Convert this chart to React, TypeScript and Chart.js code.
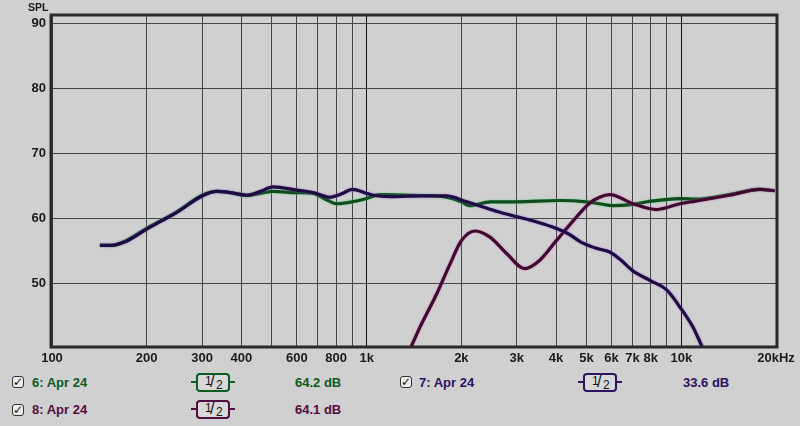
import React, { useEffect, useRef } from 'react';
import { Chart, registerables } from 'chart.js';

Chart.register(...registerables);

// Axis ticks
const xTickValues = [100, 200, 300, 400, 500, 600, 700, 800, 900, 1000, 2000, 3000, 4000, 5000, 6000, 7000, 8000, 9000, 10000, 20000];
const xTickLabels = ['100', '200', '300', '400', '', '600', '', '800', '', '1k', '2k', '3k', '4k', '5k', '6k', '7k', '8k', '', '10k', '20kHz'];
const yTickValues = [50, 60, 70, 80, 90];

// Series 6 (green)
const freq6 = [142, 155, 170, 200, 250, 300, 334, 370, 417, 460, 504, 600, 675, 740, 802, 900, 1000, 1100, 1400, 1790, 2000, 2125, 2470, 3000, 4100, 5000, 5500, 6070, 7000, 7800, 9900, 11200, 14200, 17800, 19800];
const spl6 = [55.9, 55.9, 56.5, 58.5, 61.1, 63.6, 64.2, 64.0, 63.6, 63.9, 64.2, 64.0, 63.9, 63.0, 62.3, 62.6, 63.1, 63.7, 63.6, 63.3, 62.6, 62.0, 62.6, 62.6, 62.8, 62.6, 62.3, 62.0, 62.2, 62.6, 63.1, 63.0, 63.7, 64.5, 64.3];

// Series 7 (navy purple)
const freq7 = [142, 155, 170, 200, 250, 300, 334, 370, 417, 460, 504, 600, 680, 763, 830, 901, 1000, 1050, 1200, 1500, 1790, 2080, 2280, 2600, 2900, 3300, 3900, 4400, 4800, 5400, 5900, 6400, 7000, 7950, 9000, 9900, 10900, 11600, 12500];
const spl7 = [55.9, 55.9, 56.4, 58.4, 61.0, 63.5, 64.2, 64.0, 63.6, 64.2, 64.9, 64.4, 64.0, 63.3, 63.8, 64.5, 63.9, 63.6, 63.4, 63.5, 63.5, 62.6, 62.0, 61.1, 60.5, 59.8, 58.7, 57.6, 56.4, 55.4, 54.9, 53.7, 52.0, 50.5, 49.0, 46.4, 43.3, 40.5, 37.5];

// Series 8 (maroon)
const freq8 = [1300, 1390, 1477, 1669, 1840, 2000, 2210, 2460, 2790, 3180, 3550, 4020, 4540, 5120, 5500, 5930, 7030, 8350, 9900, 11100, 14200, 17800, 19800];
const spl8 = [38.0, 40.5, 43.3, 48.4, 53.0, 56.6, 58.1, 57.2, 54.6, 52.3, 53.6, 56.7, 59.7, 62.4, 63.3, 63.7, 62.3, 61.4, 62.3, 62.7, 63.6, 64.5, 64.3];

// Legend entries
const legendNames = ['6: Apr 24', '7: Apr 24', '8: Apr 24'];
const legendLevels = ['64.2 dB', '33.6 dB', '64.1 dB'];

const C6 = '#0f4d1e';
const C7 = '#1e0c40';
const C8 = '#3e0a2e';
const T6 = '#0d5a22';
const T7 = '#2c1260';
const T8 = '#520c40';
const HALO: Record<string, string> = {
  '6': 'rgba(70,210,110,0.8)',
  '7': 'rgba(150,80,230,0.7)',
  '8': 'rgba(220,80,200,0.7)',
};

const BG = '#d0d0d0';
const FONT = "'Liberation Sans', Arial, sans-serif";

function toPoints(f: number[], v: number[]) {
  return f.map((x, i) => ({ x, y: v[i] }));
}

const haloPlugin = {
  id: 'halo',
  beforeDatasetDraw(chart: any, args: any) {
    const ds = chart.data.datasets[args.index];
    const ctx = chart.ctx;
    ctx.save();
    ctx.shadowColor = HALO[ds.key] || 'transparent';
    ctx.shadowBlur = 2;
  },
  afterDatasetDraw(chart: any) {
    chart.ctx.restore();
  },
};

const framePlugin = {
  id: 'frame',
  afterDraw(chart: any) {
    const { ctx, chartArea } = chart;
    ctx.save();
    ctx.strokeStyle = '#2a2a2a';
    ctx.lineWidth = 3;
    ctx.strokeRect(chartArea.left - 1, chartArea.top - 1, chartArea.right - chartArea.left + 2, chartArea.bottom - chartArea.top + 2);
    ctx.restore();
  },
};

function CheckBox({ left, top }: { left: number; top: number }) {
  return (
    <div
      style={{
        position: 'absolute', left, top, width: 12, height: 12, boxSizing: 'border-box',
        border: '1px solid #333', borderRadius: 3, background: '#ececec',
        fontFamily: "'DejaVu Sans', sans-serif", fontSize: 12, lineHeight: '11px', color: '#111',
        textAlign: 'center', fontWeight: 'bold', overflow: 'visible',
      }}
    >
      ✓
    </div>
  );
}

function Fraction({ left, top, color }: { left: number; top: number; color: string }) {
  return (
    <div style={{ position: 'absolute', left, top, width: 44, height: 19 }}>
      <div style={{ position: 'absolute', left: 0, top: 8, width: 6, height: 2, background: color }} />
      <div style={{ position: 'absolute', right: 0, top: 8, width: 6, height: 2, background: color }} />
      <div
        style={{
          position: 'absolute', left: 5, top: 0, width: 34, height: 19, boxSizing: 'border-box',
          border: `2px solid ${color}`, borderRadius: 4, background: '#d8d8d8',
          fontFamily: FONT, color: '#111',
        }}
      >
        <span style={{ position: 'absolute', left: 7, top: -1, fontSize: 12 }}>1</span>
        <span style={{ position: 'absolute', left: 12, top: -2, fontSize: 16 }}>/</span>
        <span style={{ position: 'absolute', left: 18, top: 3, fontSize: 12 }}>2</span>
      </div>
    </div>
  );
}

function Label({ left, center, color, text }: { left: number; center: number; color: string; text: string }) {
  return (
    <div
      style={{
        position: 'absolute', left, top: center - 8, height: 16, lineHeight: '16px',
        fontFamily: FONT, fontWeight: 'bold', fontSize: 13, color, whiteSpace: 'nowrap',
      }}
    >
      {text}
    </div>
  );
}

export default function App() {
  const canvasRef = useRef<HTMLCanvasElement | null>(null);

  useEffect(() => {
    document.body.style.margin = '0';
    const canvas = canvasRef.current;
    if (!canvas) return;
    const mk = (key: string, label: string, f: number[], v: number[], color: string) =>
      ({
        key,
        label,
        data: toPoints(f, v),
        borderColor: color,
        borderWidth: 3.2,
        pointRadius: 0,
        cubicInterpolationMode: 'monotone',
        fill: false,
      } as any);
    const chart = new Chart(canvas, {
      type: 'line',
      data: {
        datasets: [
          mk('7', legendNames[1], freq7, spl7, C7),
          mk('8', legendNames[2], freq8, spl8, C8),
          mk('6', legendNames[0], freq6, spl6, C6),
        ],
      },
      options: {
        responsive: false,
        animation: false,
        parsing: false,
        normalized: true,
        layout: { padding: { left: 0, top: 16, right: 24, bottom: 0 } },
        plugins: {
          legend: { display: false },
          tooltip: { enabled: false },
        },
        scales: {
          x: {
            type: 'logarithmic',
            min: 100,
            max: 20000,
            border: { display: false },
            afterBuildTicks: (scale: any) => {
              scale.ticks = xTickValues.map((v) => ({ value: v }));
            },
            afterFit: (scale: any) => {
              scale.height = 20;
            },
            grid: {
              drawTicks: false,
              lineWidth: 1,
              color: (ctx: any) => {
                const v = ctx.tick ? ctx.tick.value : 0;
                return v === 1000 || v === 10000 ? '#111111' : '#454545';
              },
            },
            ticks: {
              autoSkip: false,
              maxRotation: 0,
              minRotation: 0,
              padding: 5,
              color: '#1a1a1a',
              font: { family: FONT, weight: 'bold', size: 13 },
              callback: (_v: any, i: number) => xTickLabels[i],
            },
          },
          y: {
            min: 40.4,
            max: 91.2,
            border: { display: false },
            afterBuildTicks: (scale: any) => {
              scale.ticks = yTickValues.map((v) => ({ value: v }));
            },
            afterFit: (scale: any) => {
              scale.width = 52;
            },
            grid: { drawTicks: false, color: '#454545', lineWidth: 1 },
            ticks: {
              padding: 6,
              color: '#1a1a1a',
              font: { family: FONT, weight: 'bold', size: 13 },
              callback: (v: any) => String(v),
            },
          },
        },
      } as any,
      plugins: [haloPlugin, framePlugin],
    });
    return () => chart.destroy();
  }, []);

  return (
    <div style={{ position: 'fixed', left: 0, top: 0, width: 800, height: 426, background: BG, overflow: 'hidden' }}>
      <canvas ref={canvasRef} width={800} height={366} style={{ position: 'absolute', left: 0, top: 0, width: 800, height: 366 }} />
      <div
        style={{
          position: 'absolute', left: 28, top: 1, fontFamily: FONT, fontWeight: 'bold', fontSize: 10.5,
          lineHeight: '12px', color: '#1a1a1a',
        }}
      >
        SPL
      </div>
      <CheckBox left={12} top={376} />
      <Label left={32} center={382.5} color={T6} text={legendNames[0]} />
      <Fraction left={191} top={373} color={T6} />
      <Label left={295} center={382.5} color={T6} text={legendLevels[0]} />

      <CheckBox left={400} top={376} />
      <Label left={419} center={382.5} color={T7} text={legendNames[1]} />
      <Fraction left={578} top={373} color={T7} />
      <Label left={683} center={382.5} color={T7} text={legendLevels[1]} />

      <CheckBox left={12} top={404} />
      <Label left={32} center={410} color={T8} text={legendNames[2]} />
      <Fraction left={191} top={400} color={T8} />
      <Label left={295} center={410} color={T8} text={legendLevels[2]} />
    </div>
  );
}
